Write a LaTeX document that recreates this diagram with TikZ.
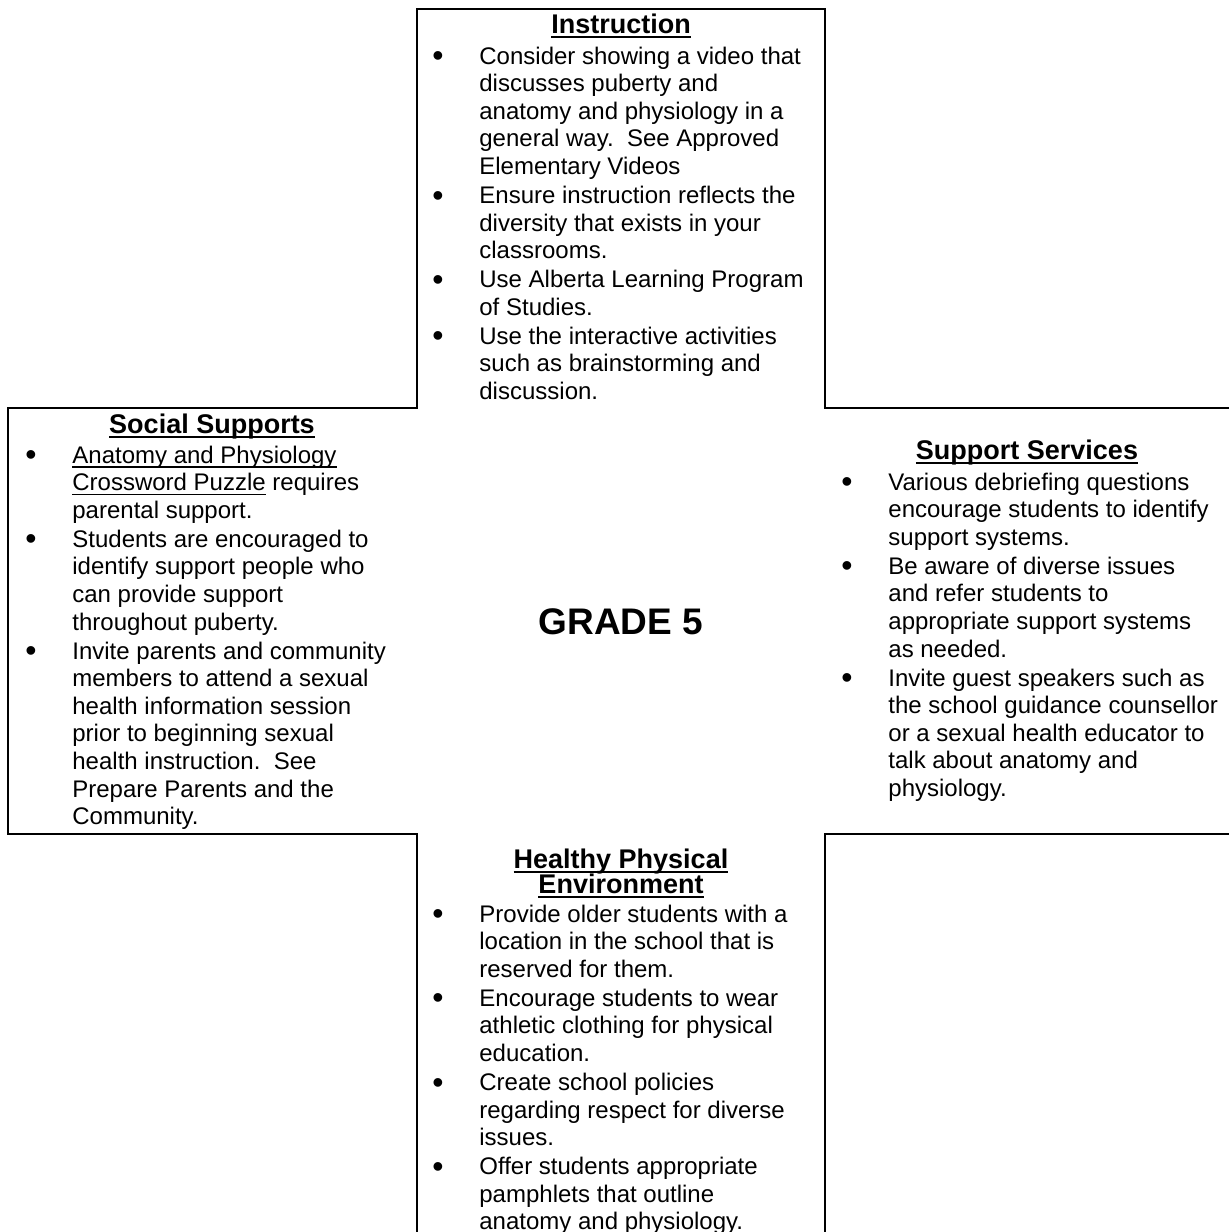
\documentclass[tikz,border=0pt]{standalone}
\usepackage{fontspec}
\setmainfont{Liberation Sans}
\newcommand\myul[1]{\setbox0\hbox{#1}\rlap{\rule[-2.3pt]{\wd0}{0.6pt}}\box0\relax}
\newcommand\myulb[1]{\setbox0\hbox{#1}\rlap{\rule[-2.7pt]{\wd0}{1.1pt}}\box0\relax}
\newcommand\bul{\llap{\makebox[23.5pt][l]{\fontsize{16}{16}\selectfont\raisebox{-1.3pt}{\textbullet}}}}
\begin{document}
\begin{tikzpicture}[x=0.5pt,y=-0.5pt,
  frame/.style={line width=1pt, line join=miter},
  ttl/.style={font=\fontsize{13.5}{15}\selectfont\bfseries, anchor=base, inner sep=0pt},
  lst/.style={font=\fontsize{12}{13.8}\selectfont, anchor=base west, inner sep=0pt},
  big/.style={font=\fontsize{18.5}{21}\selectfont\bfseries, anchor=base, inner sep=0pt}]
\useasboundingbox (0,0) rectangle (1228,1232);
\fill[white] (0,0) rectangle (1228,1232);
% cross outline
\draw[frame] (1240,408) -- (825,408) -- (825,9) -- (417,9) -- (417,408) -- (8,408)
  -- (8,834) -- (417,834) -- (417,1240);
\draw[frame] (1240,834) -- (825,834) -- (825,1240);
% top box
\node[ttl] (instr) at (621,33) {\myulb{Instruction}};
\node[lst] (instrlist) at (479,64) {\begin{tabular}[t]{@{}l@{}}
\bul Consider showing a video that\\
discusses puberty and\\
anatomy and physiology in a\\
general way.\ \ See Approved\\
Elementary Videos\\[0.7pt]
\bul Ensure instruction reflects the\\
diversity that exists in your\\
classrooms.\\[0.7pt]
\bul Use Alberta Learning Program\\
of Studies.\\[0.7pt]
\bul Use the interactive activities\\
such as brainstorming and\\
discussion.
\end{tabular}};
% left box
\node[ttl] (social) at (212,433) {\myulb{Social Supports}};
\node[lst] (sociallist) at (72,463) {\begin{tabular}[t]{@{}l@{}}
\bul \myul{Anatomy and Physiology}\\
\myul{Crossword Puzzle} requires\\
parental support.\\[0.7pt]
\bul Students are encouraged to\\
identify support people who\\
can provide support\\
throughout puberty.\\[0.7pt]
\bul Invite parents and community\\
members to attend a sexual\\
health information session\\
prior to beginning sexual\\
health instruction.\ \ See\\
Prepare Parents and the\\
Community.
\end{tabular}};
% right box
\node[ttl] (support) at (1027,459) {\myulb{Support Services}};
\node[lst] (supportlist) at (888,490) {\begin{tabular}[t]{@{}l@{}}
\bul Various debriefing questions\\
encourage students to identify\\
support systems.\\[0.7pt]
\bul Be aware of diverse issues\\
and refer students to\\
appropriate support systems\\
as needed.\\[0.7pt]
\bul Invite guest speakers such as\\
the school guidance counsellor\\
or a sexual health educator to\\
talk about anatomy and\\
physiology.
\end{tabular}};
% bottom box
\node[ttl] (healthy) at (621,868) {\myulb{Healthy Physical}};
\node[ttl] (environ) at (621,893) {\myulb{Environment}};
\node[lst] (healthylist) at (479,922) {\begin{tabular}[t]{@{}l@{}}
\bul Provide older students with a\\
location in the school that is\\
reserved for them.\\[0.7pt]
\bul Encourage students to wear\\
athletic clothing for physical\\
education.\\[0.7pt]
\bul Create school policies\\
regarding respect for diverse\\
issues.\\[0.7pt]
\bul Offer students appropriate\\
pamphlets that outline\\
anatomy and physiology.
\end{tabular}};
% centre
\node[big] (grade) at (621,634) {GRADE 5};
\end{tikzpicture}
\end{document}
